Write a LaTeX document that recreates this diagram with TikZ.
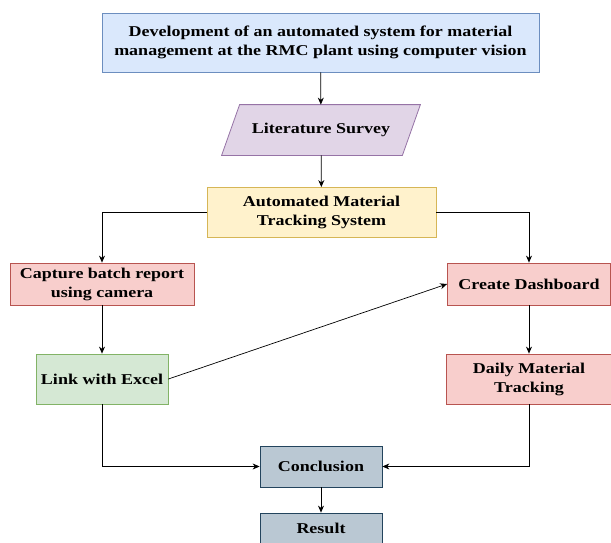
\documentclass[tikz,border=0pt]{standalone}
\usepackage{fontspec}
\setmainfont{Liberation Serif}[FakeStretch=1.2]
\usetikzlibrary{arrows.meta,backgrounds}

% draw.io style palette
\definecolor{bluefill}{HTML}{DAE8FC}\definecolor{bluedraw}{HTML}{6C8EBF}
\definecolor{purpfill}{HTML}{E1D5E7}\definecolor{purpdraw}{HTML}{9673A6}
\definecolor{yelfill}{HTML}{FFF2CC}\definecolor{yeldraw}{HTML}{D6B656}
\definecolor{redfill}{HTML}{F8CECC}\definecolor{reddraw}{HTML}{B85450}
\definecolor{grnfill}{HTML}{D5E8D4}\definecolor{grndraw}{HTML}{82B366}
\definecolor{gryfill}{HTML}{BAC8D3}\definecolor{grydraw}{HTML}{23445D}

\begin{document}
\begin{tikzpicture}[x=1pt,y=-1pt,
  box/.style={rectangle,draw,line width=0.8pt,inner sep=0pt,align=center,
    font=\fontsize{15}{19}\selectfont\bfseries,text=black},
  bluebox/.style={box,fill=bluefill,draw=bluedraw},
  yelbox/.style={box,fill=yelfill,draw=yeldraw},
  redbox/.style={box,fill=redfill,draw=reddraw},
  grnbox/.style={box,fill=grnfill,draw=grndraw},
  grybox/.style={box,fill=gryfill,draw=grydraw},
  textonly/.style={box,draw=none,fill=none},
  link/.style={line width=0.7pt,-{Stealth[length=7pt,width=6pt]}}]

\useasboundingbox (0,0) rectangle (611,542);
\clip (0,0) rectangle (611,542);

\node[bluebox,minimum width=437pt,minimum height=59pt] (goal) at (320.5,42.5)
  {Development of an automated system for material\\management at the RMC plant using computer vision};

\node[textonly,minimum width=180pt,minimum height=50pt] (lit) at (321,130) {Literature Survey};
\begin{scope}[on background layer]
  \draw[fill=purpfill,draw=purpdraw,line width=0.8pt]
    ([xshift=-9pt]lit.south west) -- ([xshift=-9pt]lit.south east)
    -- ([xshift=9pt]lit.north east) -- ([xshift=9pt]lit.north west) -- cycle;
\end{scope}

\node[yelbox,minimum width=229pt,minimum height=50pt] (ams) at (321.5,212.5)
  {Automated Material\\Tracking System};

\node[redbox,minimum width=184pt,minimum height=42pt] (cap) at (102,284)
  {Capture batch report\\using camera};
\node[redbox,minimum width=163pt,minimum height=42pt] (dash) at (529,284)
  {Create Dashboard};

\node[grnbox,minimum width=132pt,minimum height=50pt] (xls) at (102,379)
  {Link with Excel};
\node[redbox,minimum width=166pt,minimum height=50pt] (daily) at (529,379)
  {Daily Material\\Tracking};

\node[grybox,minimum width=122pt,minimum height=41pt] (conc) at (321,466.5)
  {Conclusion};
\node[grybox,minimum width=122pt,minimum height=41pt] (res) at (321,533.5)
  {};
\node[textonly] (restext) at (321,528) {Result};

\draw[link] (goal) -- (lit);
\draw[link] (lit) -- (ams);
\draw[link] (ams.west) -| (cap.north);
\draw[link] (ams.east) -| (dash.north);
\draw[link] (cap) -- (xls);
\draw[link] (dash) -- (daily);
\draw[link] (xls.east) -- (dash.west);
\draw[link] (xls.south) |- (conc.west);
\draw[link] (daily.south) |- (conc.east);
\draw[link] (conc) -- (res);
\end{tikzpicture}
\end{document}
